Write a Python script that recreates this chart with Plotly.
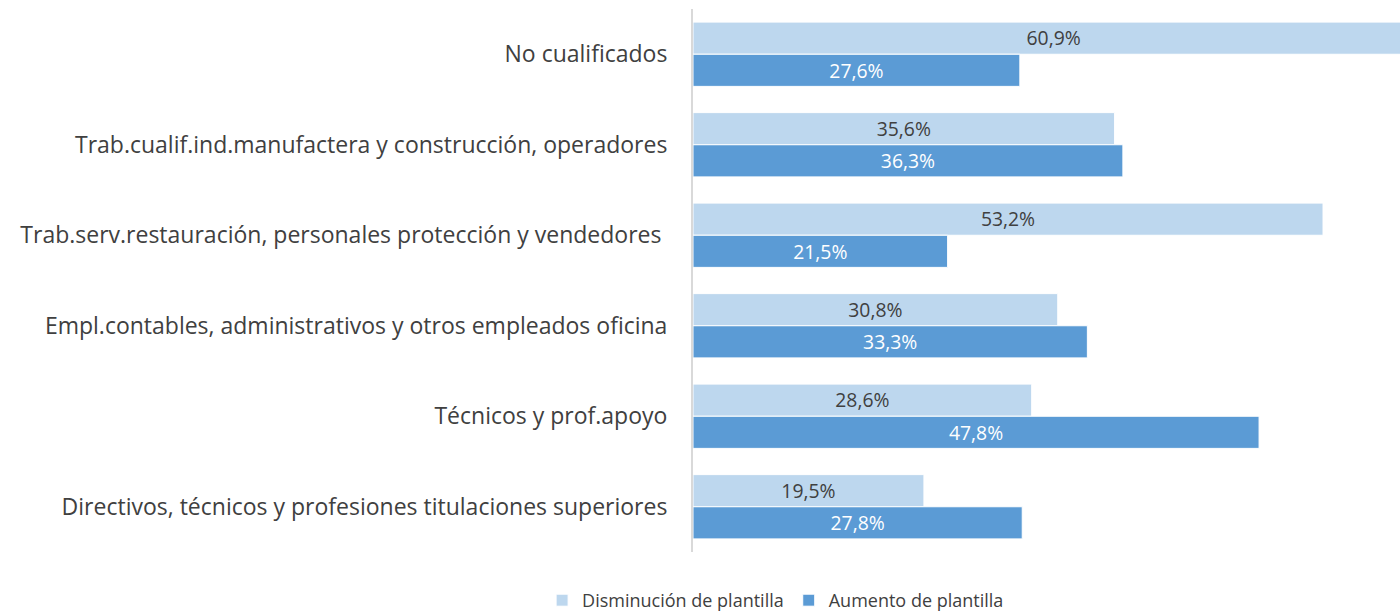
import plotly.graph_objects as go

categories = [
    "No cualificados",
    "Trab.cualif.ind.manufactera y construcción, operadores",
    "Trab.serv.restauración, personales protección y vendedores ",
    "Empl.contables, administrativos y otros empleados oficina",
    "Técnicos y prof.apoyo",
    "Directivos, técnicos y profesiones titulaciones superiores",
]
disminucion = [60.9, 35.6, 53.2, 30.8, 28.6, 19.5]
aumento = [27.6, 36.3, 21.5, 33.3, 47.8, 27.8]

def fmt(v):
    return f"{v:.1f}%".replace(".", ",")

fig = go.Figure()
fig.add_trace(go.Bar(
    y=categories, x=disminucion, orientation="h",
    name="Disminución de plantilla",
    marker=dict(color="#BDD7EE", line=dict(color="white", width=1)),
    text=[fmt(v) for v in disminucion], textposition="inside",
    insidetextanchor="middle",
    textfont=dict(color="#404040", size=20, family="Open Sans"),
))
fig.add_trace(go.Bar(
    y=categories, x=aumento, orientation="h",
    name="Aumento de plantilla",
    marker=dict(color="#5B9BD5", line=dict(color="white", width=1)),
    text=[fmt(v) for v in aumento], textposition="inside",
    insidetextanchor="middle",
    textfont=dict(color="white", size=20, family="Open Sans"),
))

fig.update_layout(
    width=1400, height=614,
    margin=dict(l=693, r=0, t=9, b=62),
    barmode="group", bargap=0.29, bargroupgap=0,
    plot_bgcolor="white", paper_bgcolor="white",
    font=dict(family="Open Sans", color="#404040"),
    uniformtext=dict(mode="show", minsize=10),
    legend=dict(
        orientation="h", xref="container", yref="container",
        x=0.554, xanchor="center", y=0.022, yanchor="middle",
        font=dict(size=18, color="#404040"),
    ),
    xaxis=dict(range=[0, 59.7], visible=False, showgrid=False, zeroline=False),
    yaxis=dict(
        autorange="reversed", showline=True, linecolor="#D9D9D9", linewidth=2,
        ticks="", showgrid=False, ticklabelstandoff=19,
        tickfont=dict(size=23, color="#404040", family="Open Sans"),
    ),
)

fig.write_html(
    "out.html",
    config={"displayModeBar": False},
    post_script="document.body.style.margin='0';document.body.style.overflow='hidden';",
)
